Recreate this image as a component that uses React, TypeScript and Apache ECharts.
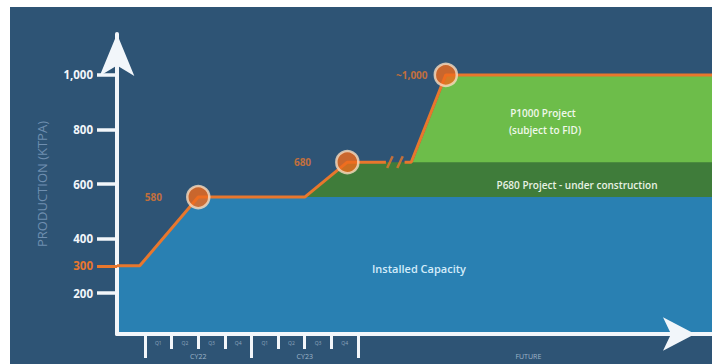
import React, { useEffect, useRef } from 'react';
import * as echarts from 'echarts';

// ---- data ----
const yLabelValues = [200, 300, 400, 600, 800, 1000];
const yTickValues = [200, 400, 600, 800, 1000];
const highlightedYLabel = 300;

const majorQuarterTicks = [0, 4, 8];
const minorQuarterTicks = [1, 2, 3, 5, 6, 7];
const quarterLabelPositions = [0.5, 1.5, 2.5, 3.5, 4.5, 5.5, 6.5, 7.5];
const quarterLabels = ['Q1', 'Q2', 'Q3', 'Q4', 'Q1', 'Q2', 'Q3', 'Q4'];
const periodPositions = [2, 6, 14.4];
const periodLabels = ['CY22', 'CY23', 'FUTURE'];

// production path (x in quarters from start of CY22, y in ktpa)
const productionX = [-1.053, -0.2, 2.0, 6.0, 7.6, 9.05, 9.4, 9.75, 10.0, 11.3, 21.3];
const productionY: (number | null)[] = [300, 300, 552, 552, 680, 680, null, 680, 680, 1000, 1000];

const installedX = [-1.053, -0.2, 2.0, 21.3];
const installedY = [300, 300, 552, 552];
const p680X = [6.0, 7.6, 21.3];
const p680Y = [552, 680, 680];
const p1000X = [10.05, 11.35, 21.3];
const p1000Y = [680, 1000, 1000];

const milestoneX = [2.0, 7.6, 11.3];
const milestoneY = [552, 680, 1000];
const milestoneLabels = ['580', '680', '~1,000'];

const breakX = [9.2, 9.58];
const breakY = [680, 680];

// ---- styles ----
const NAVY = '#2e5475';
const BLUE = '#2980b2';
const DARK_GREEN = '#3f7c3a';
const LIGHT_GREEN = '#6dbd4a';
const ORANGE = '#e8772d';
const WHITE = '#f2f6fa';
const FONT = "'Open Sans', 'DejaVu Sans', sans-serif";

const X_MIN = -1.053;
const X_MAX = 21.3;
const Y_MIN = 50;
const Y_MAX = 1150;

const zip = (xs: number[], ys: (number | null)[]) =>
  xs.map((x, i) => [x, ys[i] === null ? '-' : ys[i]]);

const findLabel = (v: number, pos: number[], labels: string[]) => {
  const i = pos.findIndex((p) => Math.abs(p - v) < 1e-6);
  return i >= 0 ? labels[i] : '';
};

export default function App() {
  const ref = useRef<HTMLDivElement>(null);
  useEffect(() => {
    const chart = echarts.init(ref.current!, null, { renderer: 'svg' });
    const areaSeries = (name: string, xs: number[], ys: number[], color: string) => ({
      name,
      type: 'line',
      data: zip(xs, ys),
      symbol: 'none',
      lineStyle: { opacity: 0, width: 0 },
      areaStyle: { color, opacity: 1, origin: 'start' },
      clip: false,
      z: 1,
      silent: true,
    });
    const option: any = {
      animation: false,
      backgroundColor: 'transparent',
      textStyle: { fontFamily: FONT },
      grid: { left: 117, right: 0, top: 34, bottom: 30 },
      xAxis: [
        {
          type: 'value',
          min: X_MIN,
          max: X_MAX,
          position: 'bottom',
          z: 5,
          splitLine: { show: false },
          axisLine: {
            show: true,
            onZero: false,
            symbol: ['none', 'arrow'],
            symbolSize: [25, 32],
            symbolOffset: [0, -17],
            lineStyle: { color: WHITE, width: 4 },
          },
          axisTick: {
            show: true,
            customValues: majorQuarterTicks,
            length: 24,
            lineStyle: { color: WHITE, width: 3 },
          },
          axisLabel: {
            show: true,
            customValues: periodPositions,
            formatter: (v: number) => findLabel(v, periodPositions, periodLabels),
            margin: 19,
            color: '#9fb4c9',
            fontSize: 7,
            fontFamily: FONT,
          },
        },
        {
          type: 'value',
          min: X_MIN,
          max: X_MAX,
          position: 'bottom',
          z: 5,
          splitLine: { show: false },
          axisLine: { show: false, onZero: false },
          axisTick: {
            show: true,
            customValues: minorQuarterTicks,
            length: 15,
            lineStyle: { color: WHITE, width: 3 },
          },
          axisLabel: {
            show: true,
            customValues: quarterLabelPositions,
            formatter: (v: number) => findLabel(v, quarterLabelPositions, quarterLabels),
            margin: 6,
            color: '#8ea7bf',
            fontSize: 5,
            fontFamily: FONT,
          },
        },
      ],
      yAxis: [
        {
          type: 'value',
          min: Y_MIN,
          max: Y_MAX,
          position: 'left',
          z: 5,
          name: 'PRODUCTION (KTPA)',
          nameLocation: 'middle',
          nameGap: 69,
          nameTextStyle: { color: '#6f8fb0', fontSize: 13, fontFamily: FONT },
          splitLine: { show: false },
          axisLine: {
            show: true,
            onZero: false,
            symbol: ['none', 'arrow'],
            symbolSize: [26, 42],
            lineStyle: { color: WHITE, width: 4 },
          },
          axisTick: {
            show: true,
            customValues: yTickValues,
            length: 20,
            lineStyle: { color: WHITE, width: 3.5 },
          },
          axisLabel: {
            show: true,
            customValues: yLabelValues,
            margin: 24,
            fontSize: 11.5,
            fontWeight: 'bold',
            fontFamily: FONT,
            formatter: (v: number) => Number(v).toLocaleString('en-US'),
            color: (v: any) => (Number(v) === highlightedYLabel ? ORANGE : WHITE),
          },
        },
        {
          type: 'value',
          min: Y_MIN,
          max: Y_MAX,
          position: 'left',
          z: 9,
          splitLine: { show: false },
          axisLine: { show: false, onZero: false },
          axisTick: {
            show: true,
            customValues: [highlightedYLabel],
            length: 20,
            lineStyle: { color: ORANGE, width: 3 },
          },
          axisLabel: { show: false },
        },
      ],
      series: [
        areaSeries('P1000 Project', p1000X, p1000Y, LIGHT_GREEN),
        areaSeries('P680 Project', p680X, p680Y, DARK_GREEN),
        areaSeries('Installed Capacity', installedX, installedY, BLUE),
        {
          name: 'Production',
          type: 'line',
          data: zip(productionX, productionY),
          symbol: 'none',
          connectNulls: false,
          lineStyle: { color: ORANGE, width: 3 },
          clip: false,
          z: 10,
        },
        {
          name: 'Break',
          type: 'scatter',
          data: zip(breakX, breakY),
          symbol: 'rect',
          symbolSize: [2.5, 13],
          symbolRotate: -25,
          itemStyle: { color: ORANGE },
          clip: false,
          z: 11,
        },
        {
          name: 'Milestones',
          type: 'scatter',
          data: milestoneX.map((x, i) => ({
            value: [x, milestoneY[i]],
            label: { distance: i === 2 ? 6 : 24 },
          })),
          symbol: 'circle',
          symbolSize: 22,
          itemStyle: { color: '#f06a1c', borderColor: '#f6dcc0', borderWidth: 2.5 },
          label: {
            show: true,
            position: 'left',
            color: ORANGE,
            fontSize: 10,
            fontWeight: 'bold',
            fontFamily: FONT,
            formatter: (p: any) => milestoneLabels[p.dataIndex],
          },
          clip: false,
          z: 12,
        },
      ],
      graphic: [
        {
          type: 'text', x: 419, y: 268, z: 100,
          style: { text: 'Installed Capacity', fill: '#d3ecfa', font: `600 11px ${FONT}`, align: 'center', verticalAlign: 'middle' },
        },
        {
          type: 'text', x: 577, y: 185, z: 100,
          style: { text: 'P680 Project - under construction', fill: '#e8f2e4', font: `600 10px ${FONT}`, align: 'center', verticalAlign: 'middle' },
        },
        {
          type: 'text', x: 543, y: 113, z: 100,
          style: { text: 'P1000 Project', fill: '#f0f8ea', font: `600 10px ${FONT}`, align: 'center', verticalAlign: 'middle' },
        },
        {
          type: 'text', x: 545, y: 130, z: 100,
          style: { text: '(subject to FID)', fill: '#f0f8ea', font: `600 10px ${FONT}`, align: 'center', verticalAlign: 'middle' },
        },
      ],
    };
    chart.setOption(option);
    return () => chart.dispose();
  }, []);
  return (
    <div style={{ position: 'fixed', left: 0, top: 0, width: 712, height: 364, background: '#ffffff', overflow: 'hidden' }}>
      <div style={{ position: 'absolute', left: 10, top: 7, right: 0, bottom: 0, background: NAVY }} />
      <div ref={ref} style={{ position: 'absolute', left: 0, top: 0, width: 712, height: 364 }} />
    </div>
  );
}
